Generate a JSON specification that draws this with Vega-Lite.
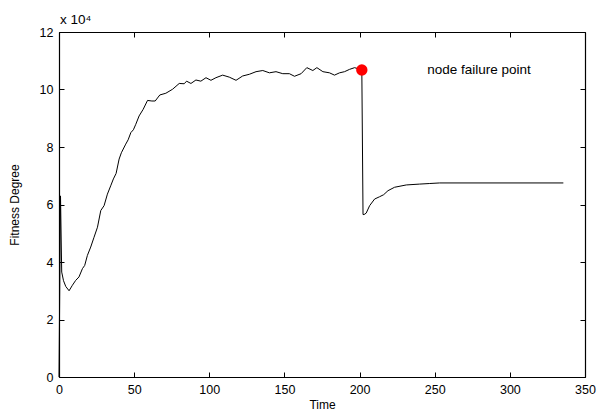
{
  "$schema": "https://vega.github.io/schema/vega-lite/v6.json",
  "autosize": "none",
  "width": 526,
  "height": 345,
  "padding": {"left": 59, "top": 32, "right": 14, "bottom": 38},
  "background": "white",
  "title": {"text": "x 10⁴", "anchor": "start", "frame": "group", "fontSize": 13.5, "fontWeight": "normal", "font": "Liberation Sans", "color": "black", "offset": 0, "dx": 1},
  "config": {
    "view": {"stroke": null},
    "axis": {"grid": false, "domainColor": "black", "domainWidth": 1.2, "tickColor": "black", "tickSize": -5, "labelColor": "black", "labelFont": "Liberation Sans", "labelFontSize": 12.5, "titleFont": "Liberation Sans", "titleFontSize": 12, "titleFontWeight": "normal", "titleColor": "black"}
  },
  "resolve": {"axis": {"x": "independent", "y": "independent"}},
  "layer": [
    {
      "data": {"values": [
        {"t": 0, "f": 0}, {"t": 1, "f": 6.3}, {"t": 1.8, "f": 3.65}, {"t": 3, "f": 3.35}, {"t": 4.5, "f": 3.15},
        {"t": 6.7, "f": 3.0}, {"t": 8.9, "f": 3.19}, {"t": 11.1, "f": 3.36}, {"t": 13.3, "f": 3.48}, {"t": 15.6, "f": 3.77},
        {"t": 17.1, "f": 3.88}, {"t": 18.9, "f": 4.23}, {"t": 21.1, "f": 4.52}, {"t": 23.3, "f": 4.86}, {"t": 25.6, "f": 5.21},
        {"t": 27.8, "f": 5.79}, {"t": 30, "f": 5.96}, {"t": 32.2, "f": 6.36}, {"t": 34.4, "f": 6.65}, {"t": 36.2, "f": 6.89},
        {"t": 38, "f": 7.08}, {"t": 40, "f": 7.58}, {"t": 41.5, "f": 7.8}, {"t": 44.4, "f": 8.1}, {"t": 46, "f": 8.25},
        {"t": 47.8, "f": 8.5}, {"t": 49.5, "f": 8.6}, {"t": 51.1, "f": 8.79}, {"t": 53.3, "f": 9.08}, {"t": 56, "f": 9.31},
        {"t": 58.9, "f": 9.62}, {"t": 61.8, "f": 9.6}, {"t": 64, "f": 9.6}, {"t": 67.1, "f": 9.81}, {"t": 71.1, "f": 9.87},
        {"t": 75.6, "f": 10.01}, {"t": 80, "f": 10.21}, {"t": 83.3, "f": 10.2}, {"t": 84.9, "f": 10.29}, {"t": 87.8, "f": 10.21},
        {"t": 91.1, "f": 10.33}, {"t": 94.4, "f": 10.29}, {"t": 97.8, "f": 10.41}, {"t": 101.1, "f": 10.32}, {"t": 104.4, "f": 10.41},
        {"t": 108.9, "f": 10.5}, {"t": 113.3, "f": 10.43}, {"t": 117.8, "f": 10.32}, {"t": 122.2, "f": 10.47}, {"t": 126.7, "f": 10.53},
        {"t": 131.1, "f": 10.62}, {"t": 135.6, "f": 10.66}, {"t": 140, "f": 10.58}, {"t": 144.4, "f": 10.62}, {"t": 148.9, "f": 10.55},
        {"t": 153.3, "f": 10.55}, {"t": 156.7, "f": 10.46}, {"t": 161.1, "f": 10.55}, {"t": 164.9, "f": 10.76}, {"t": 168.9, "f": 10.66},
        {"t": 171.6, "f": 10.76}, {"t": 175.6, "f": 10.62}, {"t": 180, "f": 10.58}, {"t": 183.3, "f": 10.5}, {"t": 186.7, "f": 10.58},
        {"t": 190, "f": 10.62}, {"t": 193.3, "f": 10.7}, {"t": 196.7, "f": 10.76}, {"t": 199, "f": 10.72}, {"t": 201.5, "f": 10.68},
        {"t": 202.3, "f": 5.65}, {"t": 203, "f": 5.65}, {"t": 204.4, "f": 5.7}, {"t": 206.7, "f": 5.96}, {"t": 210, "f": 6.19},
        {"t": 213.3, "f": 6.27}, {"t": 216, "f": 6.34}, {"t": 218.9, "f": 6.48}, {"t": 223.3, "f": 6.6}, {"t": 231.1, "f": 6.68},
        {"t": 240, "f": 6.71}, {"t": 246.7, "f": 6.73}, {"t": 253.3, "f": 6.75}, {"t": 335.6, "f": 6.75}
      ]},
      "mark": {"type": "line", "color": "black", "strokeWidth": 1},
      "encoding": {
        "x": {"field": "t", "type": "quantitative", "scale": {"domain": [0, 350], "nice": false, "zero": false}, "axis": {"orient": "bottom", "title": "Time", "values": [0, 50, 100, 150, 200, 250, 300, 350], "labelPadding": 11, "titlePadding": 4, "labelFlush": false}},
        "y": {"field": "f", "type": "quantitative", "scale": {"domain": [0, 12], "nice": false}, "axis": {"orient": "left", "title": "Fitness Degree", "values": [0, 2, 4, 6, 8, 10, 12], "labelPadding": 11, "titlePadding": 18, "labelFlush": false}},
        "order": {"field": "t", "type": "quantitative"}
      }
    },
    {
      "data": {"values": [{"t": 201.5, "f": 10.68}]},
      "mark": {"type": "point", "filled": true, "color": "#ff0000", "opacity": 1, "size": 130},
      "encoding": {
        "x": {"field": "t", "type": "quantitative", "axis": {"orient": "top", "title": null, "labels": false, "values": [0, 50, 100, 150, 200, 250, 300, 350]}},
        "y": {"field": "f", "type": "quantitative", "axis": {"orient": "right", "title": null, "labels": false, "values": [0, 2, 4, 6, 8, 10, 12]}}
      }
    },
    {
      "data": {"values": [{"t": 245, "f": 10.68, "label": "node failure point"}]},
      "mark": {"type": "text", "align": "left", "baseline": "middle", "font": "Liberation Sans", "fontSize": 13.5, "color": "black"},
      "encoding": {
        "x": {"field": "t", "type": "quantitative", "axis": null},
        "y": {"field": "f", "type": "quantitative", "axis": null},
        "text": {"field": "label"}
      }
    }
  ]
}
